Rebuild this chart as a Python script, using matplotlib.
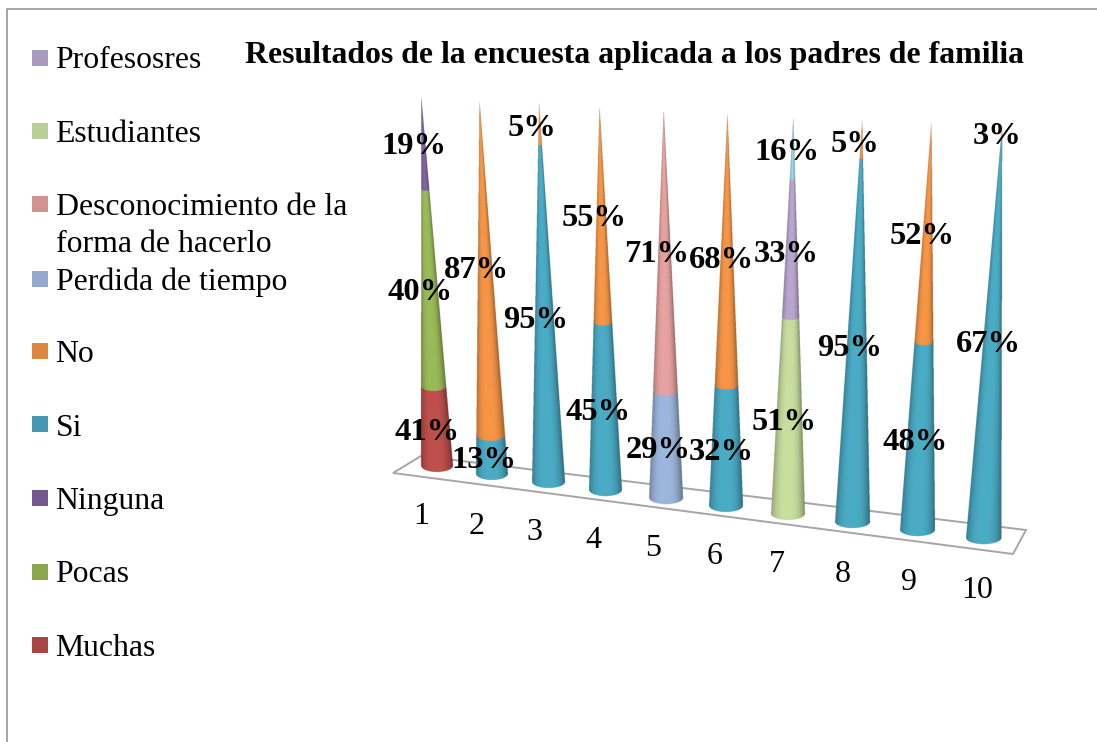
import numpy as np
import matplotlib
matplotlib.use("Agg")
import matplotlib.pyplot as plt
from matplotlib.colors import to_rgb
from matplotlib.patches import Rectangle, Polygon

# ---------- data ----------
categories = ["1", "2", "3", "4", "5", "6", "7", "8", "9", "10"]
title = "Resultados de la encuesta aplicada a los padres de familia"

# drawn height of each stacked piece, % of a full cone
muchas      = [21.6, 0, 0, 0, 0, 0, 0, 0, 0, 0]
pocas       = [53.4, 0, 0, 0, 0, 0, 0, 0, 0, 0]
ninguna     = [25.0, 0, 0, 0, 0, 0, 0, 0, 0, 0]
si          = [0, 10.3, 89.0, 43.7, 0, 30.7, 0, 90.2, 46.1, 97.0]
no          = [0, 89.2, 11.6, 55.9, 0, 70.1, 0, 10.4, 54.0, 3.0]
perdida     = [0, 0, 0, 0, 27.5, 0, 0, 0, 0, 0]
desconoc    = [0, 0, 0, 0, 73.2, 0, 0, 0, 0, 0]
estudiantes = [0, 0, 0, 0, 0, 0, 49.5, 0, 0, 0]
profesores  = [0, 0, 0, 0, 0, 0, 34.7, 0, 0, 0]
otros       = [0, 0, 0, 0, 0, 0, 15.1, 0, 0, 0]

# printed percentages
lab_values = [41, 40, 19, 13, 87, 95, 5, 45, 55, 29, 71, 32, 68, 51, 33, 16, 95, 5, 48, 52, 67, 3]

legend_names = ["Profesosres", "Estudiantes", "Desconocimiento de la\nforma de hacerlo",
                "Perdida de tiempo", "No", "Si", "Ninguna", "Pocas", "Muchas"]

# ---------- styles and layout ----------
stack = [muchas, pocas, ninguna, si, no, perdida, desconoc, estudiantes, profesores, otros]
cone_cols = ["#C0504D", "#9BBB59", "#8064A2", "#4BACC6", "#F79646", "#9DB7DC",
             "#E6A3A1", "#C9DFA0", "#B8A7CF", "#9AD3E3"]
swatch_cols = ["#A99BBF", "#BACF96", "#D39292", "#93A9CF", "#DE853E", "#4499B1",
               "#735790", "#8BA84F", "#A94543"]
swatch_y = [50, 123, 196, 271, 343, 416, 490, 564, 637]
legend_text_y = [61, 134.5, 226, 282, 355, 428, 502, 575, 648]
lab_xy = [(427, 433), (420, 293), (414, 146), (484, 461), (476, 271), (536, 321), (532, 128),
          (598, 412), (594, 218), (658, 450), (657, 254), (721, 452), (721, 261),
          (784, 422), (786, 255), (787, 152), (850, 349), (855, 144), (915, 442), (922, 236),
          (988, 345), (997, 137)]
tick_xy = [(421, 517), (477, 526), (534, 532), (593, 541), (653, 549),
           (715, 557), (777, 565), (843, 575), (909, 582), (977, 591)]
ELL = 6.5


def cone_frame(c):
    """Canvas geometry of the cone at category position c (0-9)."""
    bx = 436.5 + 54.275 * c + 0.725 * c * c
    by = 465.5 + 8.0 * c
    tx = 421.0 + 57.18 * c + 0.82 * c * c
    ty = 97.0 + 3.2 * c
    r = 15.8 + 0.2 * c
    return bx, by, tx, ty, r


def shade(u):
    return 0.68 + 0.32 * (1 - np.abs(u + 0.05) ** 3)


fig = plt.figure(figsize=(10.97, 7.42), dpi=100)
ax = fig.add_axes([0, 0, 1, 1])
ax.axis("off")

# outer frame
ax.plot([1097, 6.5, 6.5], [8.5, 8.5, 742], color="#8C8C8C", lw=1.1, zorder=1)

# floor
corners = [(393, 473), (421, 456), (1026, 530), (1013, 554)]
ax.add_patch(Polygon(corners, closed=True, fill=False, ec="#A6A6A6", lw=1.4, zorder=2))

# cones: each is a smooth shaded image whose colour bands come from the stacked values
SS = 4
for c in range(len(categories)):
    bx, by, tx, ty, r = cone_frame(c)
    heights = np.array([s[c] for s in stack], dtype=float)
    tops = np.cumsum(heights)
    total = tops[-1]
    x0, x1 = min(bx - r, tx) - 3, max(bx + r, tx) + 3
    y0, y1 = ty - 3, by + ELL + 3
    nx, ny = int((x1 - x0) * SS), int((y1 - y0) * SS)
    X, Y = np.meshgrid(x0 + (np.arange(nx) + 0.5) / SS, y0 + (np.arange(ny) + 0.5) / SS)
    v = (by - Y) / (by - ty)
    u = np.zeros_like(X)
    for _ in range(10):
        rem = np.clip(1 - v, 1e-4, None)
        u = (X - (bx + (tx - bx) * v)) / (r * rem)
        uc = np.clip(u, -1, 1)
        v = (by - Y + ELL * np.clip(1 - v, 0, 1) * np.sqrt(1 - uc * uc)) / (by - ty)
    idx = np.searchsorted(tops, np.clip(v * 100, 0, total - 1e-6), side="right")
    rgb = np.array([to_rgb(col) for col in cone_cols])[np.clip(idx, 0, len(stack) - 1)]
    k = shade(np.clip(u, -1, 1))[..., None]
    img = np.dstack([np.clip(rgb * k, 0, 1),
                     ((np.abs(u) <= 1) & (v >= 0) & (v * 100 <= total)).astype(float)])
    ax.imshow(img, extent=(x0, x1, y1, y0), origin="upper", aspect="auto",
              interpolation="antialiased", zorder=3 + c * 0.01)

ax.set_xlim(0, 1097)
ax.set_ylim(742, 0)

serif = "Liberation Serif"
ax.text(634.5, 55, title, family=serif, weight="bold", fontsize=22.9,
        ha="center", va="center", color="black", zorder=6)

for name, col, sy, ty in zip(legend_names, swatch_cols, swatch_y, legend_text_y):
    ax.add_patch(Rectangle((32, sy), 16, 16, fc=col, ec="none", zorder=5))
    ax.text(55.5, ty, name, family=serif, fontsize=22.9, va="center",
            ha="left", color="black", linespacing=1.34, zorder=6)

for val, (x, y) in zip(lab_values, lab_xy):
    ax.text(x, y, f"{val}%", family=serif, weight="bold", fontsize=23.4,
            ha="center", va="center", color="black", zorder=7)

for cat, (x, y) in zip(categories, tick_xy):
    ax.text(x, y, cat, family=serif, fontsize=23, ha="center", va="center", color="black", zorder=6)

fig.savefig("out.png", dpi=100)
